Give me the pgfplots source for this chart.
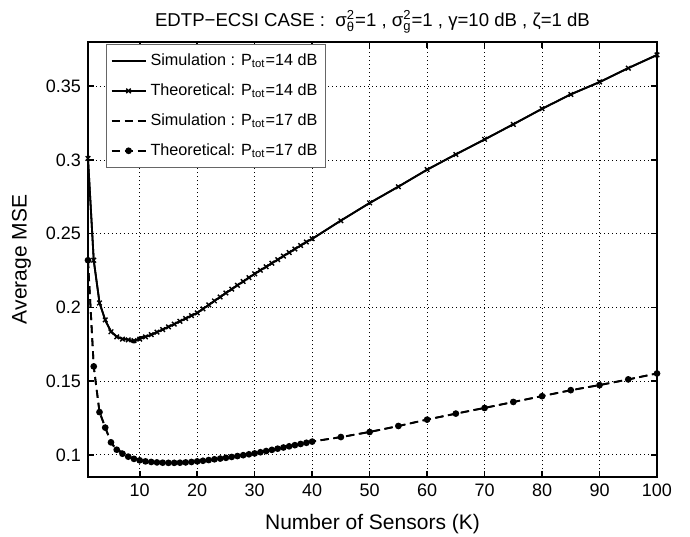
\documentclass[border=0pt]{standalone}
\usepackage{amsmath}
\usepackage{fontspec}
\setmainfont{Liberation Sans}
\usepackage{pgfplots}
\pgfplotsset{compat=1.18}
\usepackage{pgfplotstable}

\pgfplotstableread{
K mse
1 0.3010
2 0.2320
3 0.2030
4 0.1915
5 0.1835
6 0.1800
7 0.1785
8 0.1780
9 0.1775
10 0.1785
11 0.1800
12 0.1815
13 0.1832
14 0.1850
15 0.1868
16 0.1887
17 0.1906
18 0.1925
19 0.1944
20 0.1963
21 0.1990
22 0.2017
23 0.2044
24 0.2071
25 0.2098
26 0.2124
27 0.2150
28 0.2176
29 0.2202
30 0.2228
31 0.2252
32 0.2276
33 0.2300
34 0.2324
35 0.2348
36 0.2372
37 0.2396
38 0.2420
39 0.2444
40 0.2466
45 0.2588
50 0.2709
55 0.2818
60 0.2935
65 0.3037
70 0.3140
75 0.3241
80 0.3348
85 0.3444
90 0.3529
95 0.3622
100 0.3713
}\theoA

\pgfplotstableread{
K mse
1 0.3010
2 0.2318
3 0.2035
4 0.1912
5 0.1838
6 0.1803
7 0.1788
8 0.1782
9 0.1762
10 0.1798
11 0.1803
12 0.1812
13 0.1834
14 0.1849
15 0.1870
16 0.1885
17 0.1908
18 0.1924
19 0.1946
20 0.1961
21 0.1992
22 0.2015
23 0.2046
24 0.2069
25 0.2100
26 0.2122
27 0.2152
28 0.2174
29 0.2204
30 0.2226
31 0.2254
32 0.2274
33 0.2302
34 0.2322
35 0.2350
36 0.2370
37 0.2398
38 0.2418
39 0.2446
40 0.2464
45 0.2590
50 0.2707
55 0.2820
60 0.2933
65 0.3039
70 0.3138
75 0.3243
80 0.3346
85 0.3446
90 0.3527
95 0.3624
100 0.3711
}\simA

\pgfplotstableread{
K mse
1 0.2320
2 0.1600
3 0.1290
4 0.1185
5 0.1085
6 0.1035
7 0.1008
8 0.0988
9 0.0973
10 0.0963
11 0.0956
12 0.0952
13 0.0949
14 0.0947
15 0.0946
16 0.0946
17 0.0947
18 0.0949
19 0.0952
20 0.0956
21 0.0960
22 0.0965
23 0.0970
24 0.0975
25 0.0980
26 0.0986
27 0.0992
28 0.0998
29 0.1004
30 0.1010
31 0.1018
32 0.1026
33 0.1034
34 0.1042
35 0.1050
36 0.1058
37 0.1066
38 0.1074
39 0.1082
40 0.1090
45 0.1121
50 0.1155
55 0.1196
60 0.1239
65 0.1280
70 0.1318
75 0.1359
80 0.1398
85 0.1439
90 0.1473
95 0.1512
100 0.1552
}\theoB

\pgfplotstableread{
K mse
1 0.2320
2 0.1598
3 0.1292
4 0.1188
5 0.1083
6 0.1031
7 0.1022
8 0.0990
9 0.0972
10 0.0962
11 0.0957
12 0.0951
13 0.0950
14 0.0946
15 0.0947
16 0.0945
17 0.0948
18 0.0948
19 0.0953
20 0.0955
21 0.0961
22 0.0964
23 0.0971
24 0.0974
25 0.0981
26 0.0985
27 0.0993
28 0.0997
29 0.1005
30 0.1009
31 0.1019
32 0.1025
33 0.1035
34 0.1041
35 0.1051
36 0.1057
37 0.1067
38 0.1073
39 0.1083
40 0.1091
45 0.1120
50 0.1156
55 0.1195
60 0.1240
65 0.1279
70 0.1319
75 0.1358
80 0.1399
85 0.1438
90 0.1474
95 0.1511
100 0.1553
}\simB

\begin{document}
\begin{tikzpicture}
\path[use as bounding box] (-44pt,-29.5pt) rectangle (301pt,238.5pt);
\begin{axis}[
  at={(0pt,0pt)}, anchor=south west,
  scale only axis, width=284.5pt, height=217.5pt,
  xmin=1, xmax=100, ymin=0.085, ymax=0.38,
  xtick={10,20,30,40,50,60,70,80,90,100},
  ytick={0.1,0.15,0.2,0.25,0.3,0.35},
  yticklabels={0.1,0.15,0.2,0.25,0.3,0.35},
  tick pos=both, tick align=inside,
  major tick length=3pt,
  grid=major,
  major grid style={black, line width=0.4pt, dash pattern=on 0.4pt off 1.6pt},
  axis line style={line width=0.8pt},
  every tick/.style={black, line width=0.8pt},
  /pgf/number format/assume math mode=true,
  tick label style={font=\fontsize{9}{10}\selectfont},
  label style={font=\fontsize{10.5}{12}\selectfont},
  xlabel={Number of Sensors (K)},
  ylabel={Average MSE},
  xlabel style={at={(axis description cs:0.5,0)}, anchor=base, yshift=-26pt},
  ylabel style={at={(axis description cs:0,0.5)}, anchor=south, yshift=25pt},
  legend cell align=left,
  legend style={at={(axis description cs:0,1)}, anchor=north west, xshift=9pt, yshift=-1pt,
    draw=black!60, line width=0.6pt, fill=white,
    font=\fontsize{8.1}{9.5}\selectfont, row sep=3.6pt, inner xsep=2pt, inner ysep=2.5pt},
]
\addplot[black, line width=0.9pt, no marks] table[x=K,y=mse] {\simA};
\addlegendentry{Simulation : P\textsubscript{tot}=14 dB}
\addplot[black, line width=0.9pt, mark=x, mark size=1.6pt, mark options={line width=0.7pt}] table[x=K,y=mse] {\theoA};
\addlegendentry{Theoretical: P\textsubscript{tot}=14 dB}
\addplot[black, line width=0.9pt, no marks, dash pattern=on 4pt off 2.5pt] table[x=K,y=mse] {\simB};
\addlegendentry{Simulation : P\textsubscript{tot}=17 dB}
\addplot[black, line width=0.9pt, dash pattern=on 4pt off 2.5pt, mark=*, mark size=1.2pt, mark options={solid}] table[x=K,y=mse] {\theoB};
\addlegendentry{Theoretical: P\textsubscript{tot}=17 dB}
\end{axis}
\node[anchor=base, font=\fontsize{9.3}{11}\selectfont] at (142.25pt,225pt)
  {EDTP−ECSI CASE :\ \ $\text{σ}^{\text{2}}_{\text{θ}}$=1 , $\text{σ}^{\text{2}}_{\text{g}}$=1 , γ=10 dB , ζ=1 dB};
\end{tikzpicture}
\end{document}
